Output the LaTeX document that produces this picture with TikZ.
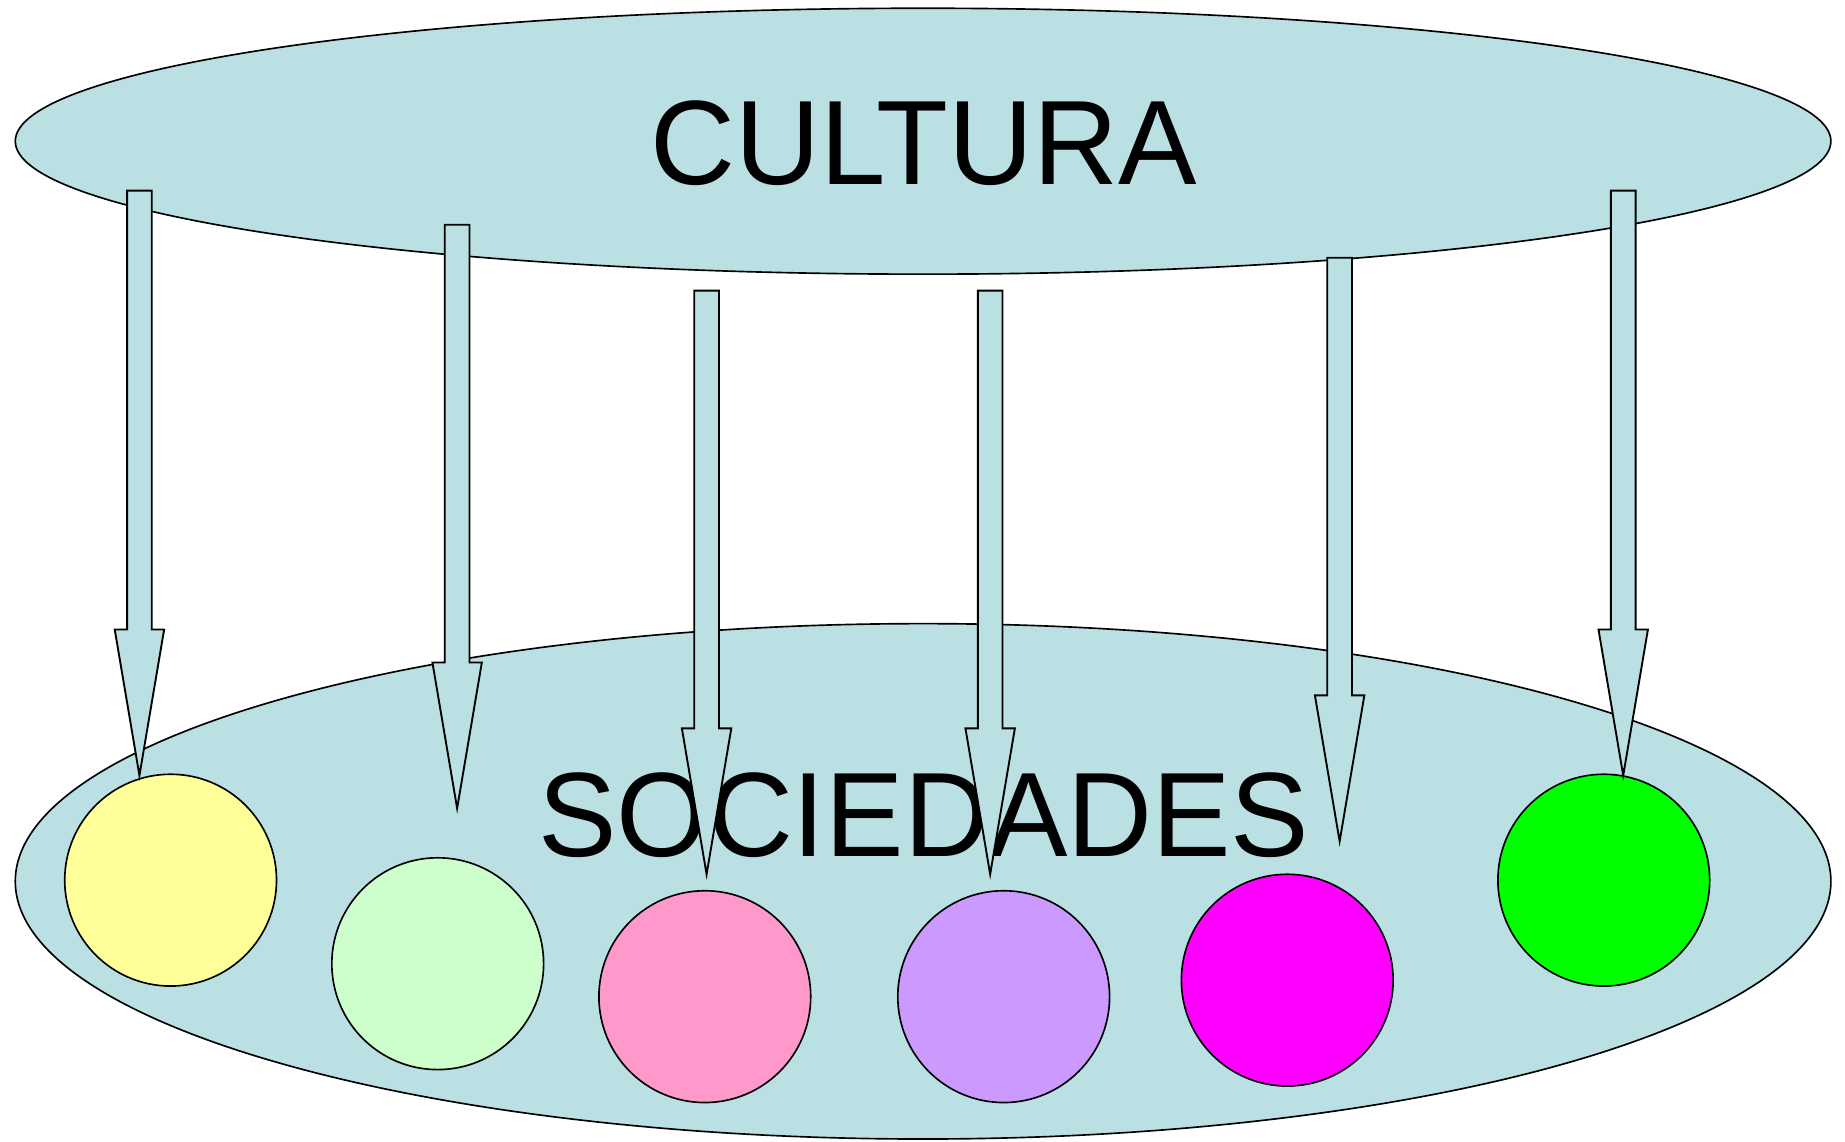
\documentclass[tikz,border=0pt]{standalone}
\usepackage{fontspec}
\setmainfont{Liberation Sans}
\usetikzlibrary{shapes.geometric}
\definecolor{lblue}{HTML}{BBE0E3}
\definecolor{cyellow}{HTML}{FFFF99}
\definecolor{clgreen}{HTML}{CCFFCC}
\definecolor{cpink}{HTML}{FF99CC}
\definecolor{cpurple}{HTML}{CC99FF}
\definecolor{cmagenta}{HTML}{FF00FF}
\definecolor{cgreen}{HTML}{00FF00}
\begin{document}
\begin{tikzpicture}[x=0.5pt,y=-0.5pt,
  blob/.style={ellipse,draw=black,line width=0.7pt,fill=lblue,inner sep=0pt},
  society/.style={circle,draw=black,line width=0.7pt,minimum size=90pt,inner sep=0pt},
  bigtext/.style={font=\fontsize{51}{60}\selectfont,inner sep=0pt,anchor=base,xscale=0.98},
  blockarrow/.style={draw=black,line width=0.8pt,fill=lblue,line join=miter}]
\useasboundingbox (0,0) rectangle (1568,970);
\node[blob,minimum width=771.5pt,minimum height=113pt] (cultura) at (784.5,120) {};
\node[blob,minimum width=771.5pt,minimum height=219pt] (sociedades) at (784.5,749) {};
\node[society,fill=cyellow] (s1) at (145,748) {};
\node[society,fill=clgreen] (s2) at (372,819) {};
\node[society,fill=cpink] (s3) at (599,847) {};
\node[society,fill=cpurple] (s4) at (853,847) {};
\node[society,fill=cmagenta] (s5) at (1094,833) {};
\node[society,fill=cgreen] (s6) at (1363,748) {};
\node[bigtext] (tcultura) at (785,157) {CULTURA};
\node[bigtext] (tsociedades) at (785,728) {SOCIEDADES};
\foreach \cx/\top/\hs/\tip in {118.5/162/535/659, 388.5/191/563/687, 600.5/247/619/743, 841.5/247/619/743, 1138.5/219/591/715, 1379.5/162/535/659}{
  \draw[blockarrow] (\cx-10.5,\top) -- (\cx+10.5,\top) -- (\cx+10.5,\hs) -- (\cx+21,\hs) -- (\cx,\tip) -- (\cx-21,\hs) -- (\cx-10.5,\hs) -- cycle;
}
\end{tikzpicture}
\end{document}
